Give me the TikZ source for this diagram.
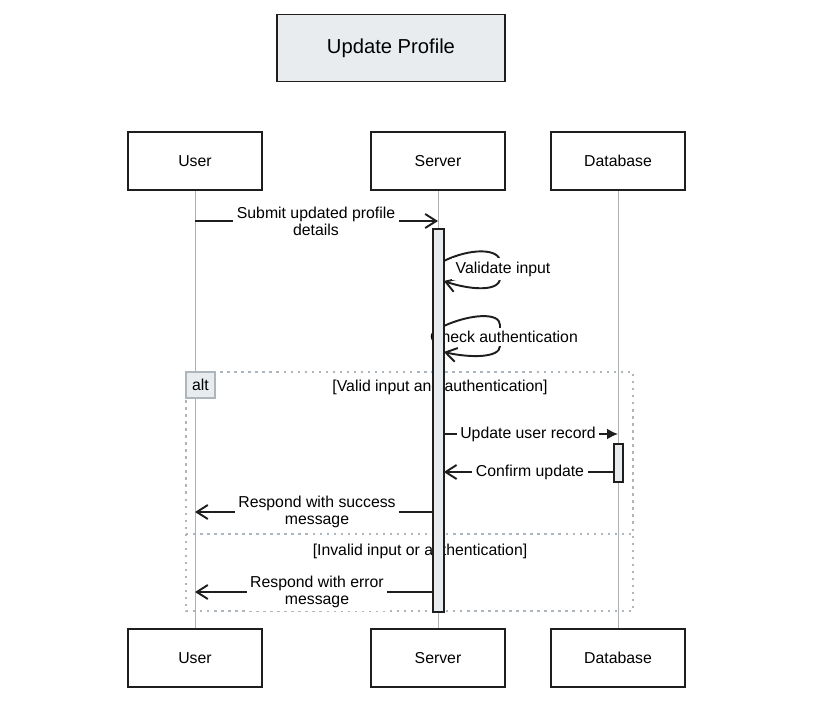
\documentclass[tikz,border=0pt]{standalone}
\usepackage{fontspec}
\setmainfont{Liberation Sans}
\usetikzlibrary{arrows.meta}

\definecolor{boxfill}{HTML}{E9ECEF}
\definecolor{framegray}{HTML}{ADB5BD}
\definecolor{lifegray}{HTML}{B0B0B0}
\definecolor{ink}{HTML}{1E1E1E}

\begin{document}
\begin{tikzpicture}[
    x=0.02cm, y=-0.02cm,
    part/.style={draw=ink, line width=1pt, minimum width=2.68cm, minimum height=1.16cm,
        font=\fontsize{9}{11}\selectfont},
    act/.style={draw=ink, fill=boxfill, line width=0.9pt, minimum width=0.18cm, inner sep=0pt},
    life/.style={draw=lifegray, line width=0.5pt},
    msg/.style={draw=ink, line width=1.1pt, -{Straight Barb[length=2.2mm, width=2.8mm, line width=1.1pt]}},
    call/.style={draw=ink, line width=1.1pt, -{Latex[length=2.2mm, width=2.2mm]}},
    lbl/.style={fill=white, inner sep=2pt, align=center, font=\fontsize{9}{9.6}\selectfont},
    guard/.style={inner sep=1pt, font=\fontsize{9}{11}\selectfont},
    frame/.style={draw=framegray, line width=1pt, dash pattern=on 1.4pt off 2.6pt}
]
\useasboundingbox (0,0) rectangle (825,711);
% Title
\node[draw=ink, fill=boxfill, line width=1pt, minimum width=4.56cm, minimum height=1.34cm,
    font=\fontsize{11.5}{13}\selectfont] (title) at (391,48) {Update Profile};
% Participants
\node[part] (user)    at (195,161) {User};
\node[part] (server)  at (438,161) {Server};
\node[part] (db)      at (618,161) {Database};
\node[part] (userB)   at (195,658) {User};
\node[part] (serverB) at (438,658) {Server};
\node[part] (dbB)     at (618,658) {Database};
% Lifelines
\draw[life] (user)   -- (userB);
\draw[life] (server) -- (serverB);
\draw[life] (db)     -- (dbB);
% alt frame
\draw[frame] (186,372) rectangle (633,611);
\draw[frame] (186,534) -- (633,534);
\node[draw=framegray, fill=boxfill, line width=1pt, minimum width=0.58cm, minimum height=0.52cm,
    inner sep=0pt, font=\fontsize{9}{11}\selectfont] (alt) at (200.5,385) {alt};
\node[guard] (g1) at (440,387) {[Valid input and authentication]};
\node[guard] (g2) at (420,551) {[Invalid input or authentication]};
% Activations
\node[act, minimum height=7.62cm] (actS) at (438.5,420.5) {};
\node[act, minimum height=0.76cm] (actD) at (618.5,463) {};
% Submit
\coordinate (y1) at (0,221);
\draw[msg] (user |- y1) -- (server |- y1);
\node[lbl] (m1) at (316,221) {Submit updated profile\\details};
% Validate input
\coordinate (y2) at (0,261);
\draw[msg] (actS.east |- y2) .. controls (470,248) and (500,248) .. (500,262)
    -- (500,278) .. controls (500,292) and (470,290) .. (actS.east |- 0,281);
\node[lbl] (m2) at (503,269) {Validate input};
% Check authentication
\coordinate (y3) at (0,326);
\draw[msg] (actS.east |- y3) .. controls (470,314) and (500,312) .. (500,325)
    -- (500,346) .. controls (500,358) and (470,358) .. (actS.east |- 0,352);
\node[lbl] (m3) at (504,337) {Check authentication};
% Update user record
\coordinate (y4) at (0,434);
\draw[call] (actS.east |- y4) -- (db |- y4);
\node[lbl] (m4) at (528,434) {Update user record};
% Confirm update
\coordinate (y5) at (0,472);
\draw[msg] (actD.west |- y5) -- (actS.east |- y5);
\node[lbl] (m5) at (530,472) {Confirm update};
% Respond success
\coordinate (y6) at (0,512);
\draw[msg] (actS.west |- y6) -- (user |- y6);
\node[lbl] (m6) at (317,512) {Respond with success\\message};
% Respond error
\coordinate (y7) at (0,592);
\draw[msg] (actS.west |- y7) -- (user |- y7);
\node[lbl] (m7) at (317,592) {Respond with error\\message};
% Server activation on top of the labels
\draw[act] (actS.north west) rectangle (actS.south east);
\end{tikzpicture}
\end{document}
